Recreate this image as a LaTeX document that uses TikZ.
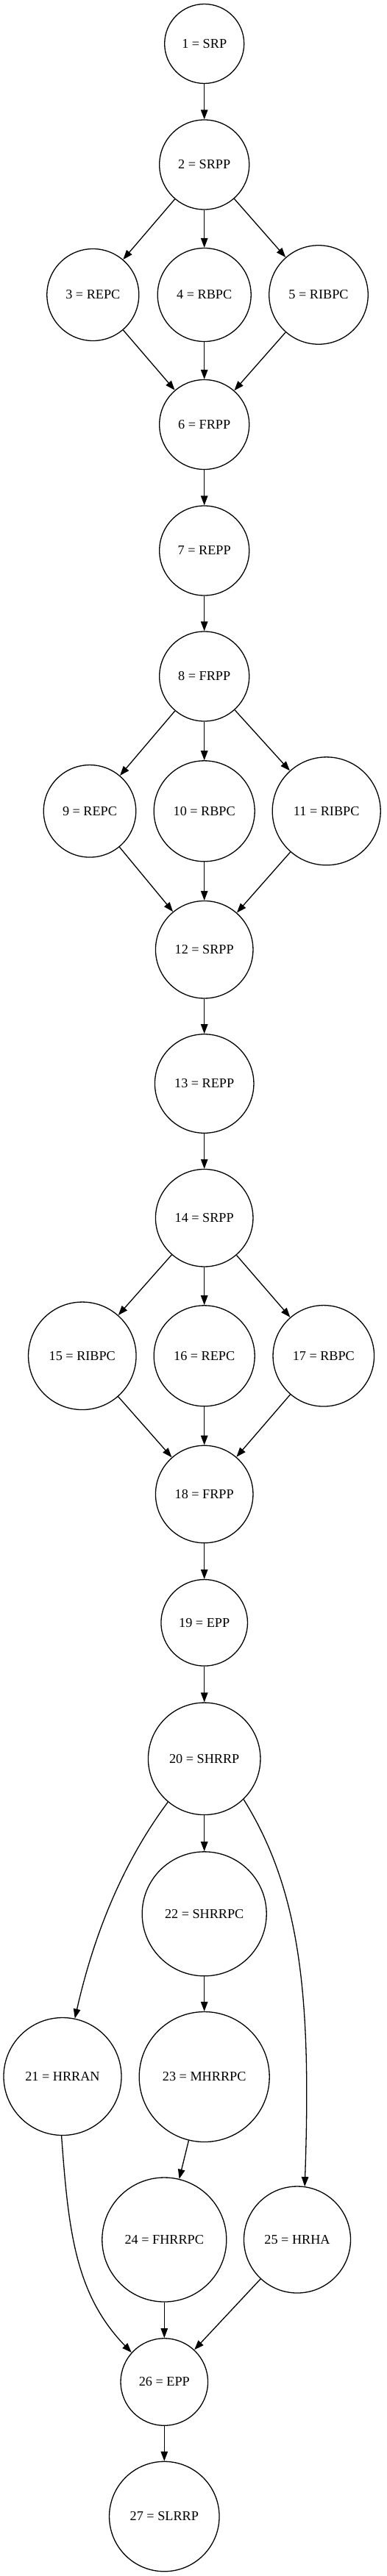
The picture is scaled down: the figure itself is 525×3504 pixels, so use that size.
\documentclass[tikz,border=0pt]{standalone}
\usepackage{fontspec}
\setmainfont{Liberation Serif}
\usetikzlibrary{arrows.meta}

\begin{document}
\begin{tikzpicture}[x=1pt, y=1pt, line width=1.3pt,
    pnode/.style={circle, draw, inner sep=0pt, font=\fontsize{18.2}{22}\selectfont},
    >={Triangle[length=13pt, width=9.5pt]}]
    \useasboundingbox (0,0) rectangle (525,-3504);

    % Process nodes
    \node[pnode, minimum size=108pt] (n1) at (277.7,-59.5) {1 = SRP};
    \node[pnode, minimum size=122pt] (n2) at (277.7,-224) {2 = SRPP};
    \node[pnode, minimum size=125pt] (n3) at (126.3,-401) {3 = REPC};
    \node[pnode, minimum size=127pt] (n4) at (277.7,-401) {4 = RBPC};
    \node[pnode, minimum size=134.5pt] (n5) at (433,-401) {5 = RIBPC};
    \node[pnode, minimum size=122pt] (n6) at (277.7,-577.5) {6 = FRPP};
    \node[pnode, minimum size=122pt] (n7) at (277.7,-749) {7 = REPP};
    \node[pnode, minimum size=122pt] (n8) at (277.7,-920) {8 = FRPP};
    \node[pnode, minimum size=125.5pt] (n9) at (122,-1103.3) {9 = REPC};
    \node[pnode, minimum size=137pt] (n10) at (277.7,-1103.3) {10 = RBPC};
    \node[pnode, minimum size=147pt] (n11) at (443.7,-1103.3) {11 = RIBPC};
    \node[pnode, minimum size=132.5pt] (n12) at (277.7,-1291.7) {12 = SRPP};
    \node[pnode, minimum size=134.5pt] (n13) at (277.7,-1474) {13 = REPP};
    \node[pnode, minimum size=132.5pt] (n14) at (277.7,-1656.7) {14 = SRPP};
    \node[pnode, minimum size=146.5pt] (n15) at (111.8,-1844.3) {15 = RIBPC};
    \node[pnode, minimum size=137pt] (n16) at (277.7,-1844.3) {16 = REPC};
    \node[pnode, minimum size=137.5pt] (n17) at (439.8,-1844.3) {17 = RBPC};
    \node[pnode, minimum size=132.5pt] (n18) at (277.7,-2032.5) {18 = FRPP};
    \node[pnode, minimum size=117.5pt] (n19) at (277.7,-2207.3) {19 = EPP};
    \node[pnode, minimum size=152.5pt] (n20) at (277.7,-2392.3) {20 = SHRRP};
    \node[pnode, minimum size=160pt] (n21) at (85,-2824.5) {21 = HRRAN};
    \node[pnode, minimum size=169pt] (n22) at (277.7,-2603.3) {22 = SHRRPC};
    \node[pnode, minimum size=177pt] (n23) at (277.7,-2825) {23 = MHRRPC};
    \node[pnode, minimum size=169pt] (n24) at (223.3,-3046.5) {24 = FHRRPC};
    \node[pnode, minimum size=145pt] (n25) at (404,-3046.5) {25 = HRHA};
    \node[pnode, minimum size=118.5pt] (n26) at (223.3,-3240) {26 = EPP};
    \node[pnode, minimum size=149.5pt] (n27) at (223.3,-3423) {27 = SLRRP};

    % Straight connectors
    \draw[->] (n1) -- (n2);
    \draw[->] (n2) -- (n3);
    \draw[->] (n2) -- (n4);
    \draw[->] (n2) -- (n5);
    \draw[->] (n3) -- (n6);
    \draw[->] (n4) -- (n6);
    \draw[->] (n5) -- (n6);
    \draw[->] (n6) -- (n7);
    \draw[->] (n7) -- (n8);
    \draw[->] (n8) -- (n9);
    \draw[->] (n8) -- (n10);
    \draw[->] (n8) -- (n11);
    \draw[->] (n9) -- (n12);
    \draw[->] (n10) -- (n12);
    \draw[->] (n11) -- (n12);
    \draw[->] (n12) -- (n13);
    \draw[->] (n13) -- (n14);
    \draw[->] (n14) -- (n15);
    \draw[->] (n14) -- (n16);
    \draw[->] (n14) -- (n17);
    \draw[->] (n15) -- (n18);
    \draw[->] (n16) -- (n18);
    \draw[->] (n17) -- (n18);
    \draw[->] (n18) -- (n19);
    \draw[->] (n19) -- (n20);
    \draw[->] (n20) -- (n22);
    \draw[->] (n22) -- (n23);
    \draw[->] (n23) -- (n24);
    \draw[->] (n24) -- (n26);
    \draw[->] (n25) -- (n26);
    \draw[->] (n26) -- (n27);

    % Curved connectors
    \draw[->] (n20.230) .. controls +(-59.8,-80.2) and +(26.4,117) .. (n21.78);
    \draw[->] (n20.314) .. controls +(79.5,-127.3) and +(8.7,250) .. (n25.82);
    \draw[->] (n21.269) .. controls +(9.4,-129.6) and +(-76.5,79.1) .. (n26.138);
\end{tikzpicture}
\end{document}
